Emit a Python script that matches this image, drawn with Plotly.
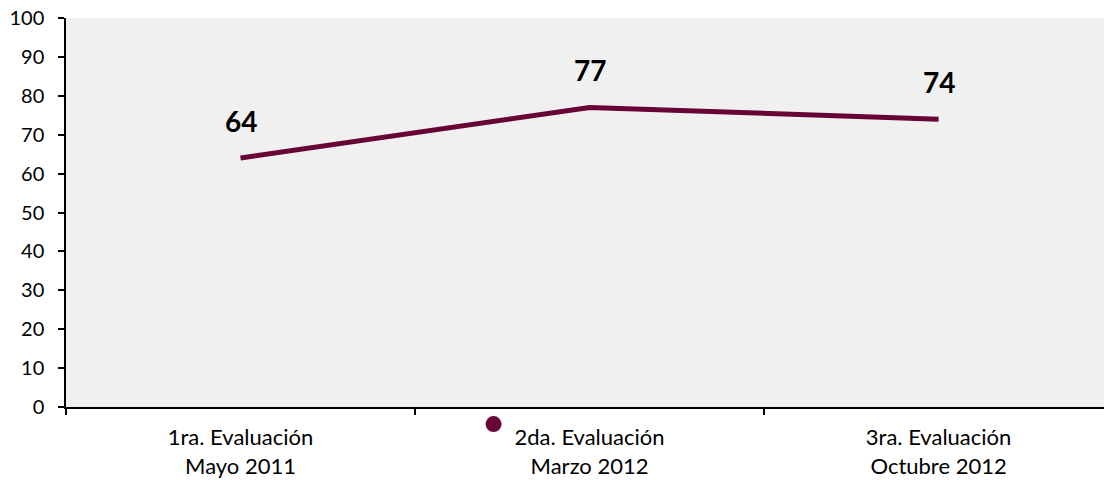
import plotly.graph_objects as go

categories = ["1ra. Evaluación<br>Mayo 2011", "2da. Evaluación<br>Marzo 2012", "3ra. Evaluación<br>Octubre 2012"]
values = [64, 77, 74]
y_ticks = list(range(0, 101, 10))

maroon = "#680536"
font_family = "Lato, 'Open Sans', sans-serif"

fig = go.Figure()
fig.add_trace(go.Scatter(
    x=categories, y=values, mode="lines",
    line=dict(color=maroon, width=5),
    showlegend=False, hoverinfo="skip",
))
fig.add_trace(go.Scatter(
    x=[None], y=[None], mode="markers",
    marker=dict(color=maroon, size=20),
    name="", showlegend=True,
))

for c, v in zip(categories, values):
    fig.add_annotation(x=c, y=v, text=f"<b>{v}</b>", showarrow=False,
                       yshift=37, font=dict(size=28, color="black", family=font_family))

fig.update_layout(
    width=1104, height=480,
    margin=dict(l=66, r=0, t=18, b=73, autoexpand=False),
    paper_bgcolor="white",
    plot_bgcolor="#f0f0f0",
    font=dict(family=font_family, size=20, color="black"),
    legend=dict(x=0.4143, y=-0.044, xanchor="center", yanchor="middle",
                orientation="h", bgcolor="rgba(0,0,0,0)", itemsizing="trace",
                font=dict(size=2)),
)
fig.update_xaxes(
    type="category", range=[-0.5, 2.474],
    showline=True, linecolor="black", linewidth=1.5,
    ticks="outside", tickson="boundaries", ticklen=6, tickcolor="black", tickwidth=1.5,
    showgrid=False, zeroline=False, automargin=False,
    tickfont=dict(size=22), ticklabelstandoff=10,
    ticklabeloverflow="allow",
)
fig.update_yaxes(
    range=[0, 100], tickvals=y_ticks,
    showline=True, linecolor="black", linewidth=1.5,
    ticks="outside", ticklen=6, tickcolor="black", tickwidth=1.5,
    showgrid=False, zeroline=False, automargin=False,
    tickfont=dict(size=20), ticklabelstandoff=10,
    ticklabeloverflow="allow",
)

fig.write_html(
    "out.html",
    config={"displayModeBar": False},
    post_script="document.body.style.margin='0';document.body.style.overflow='hidden';",
)
